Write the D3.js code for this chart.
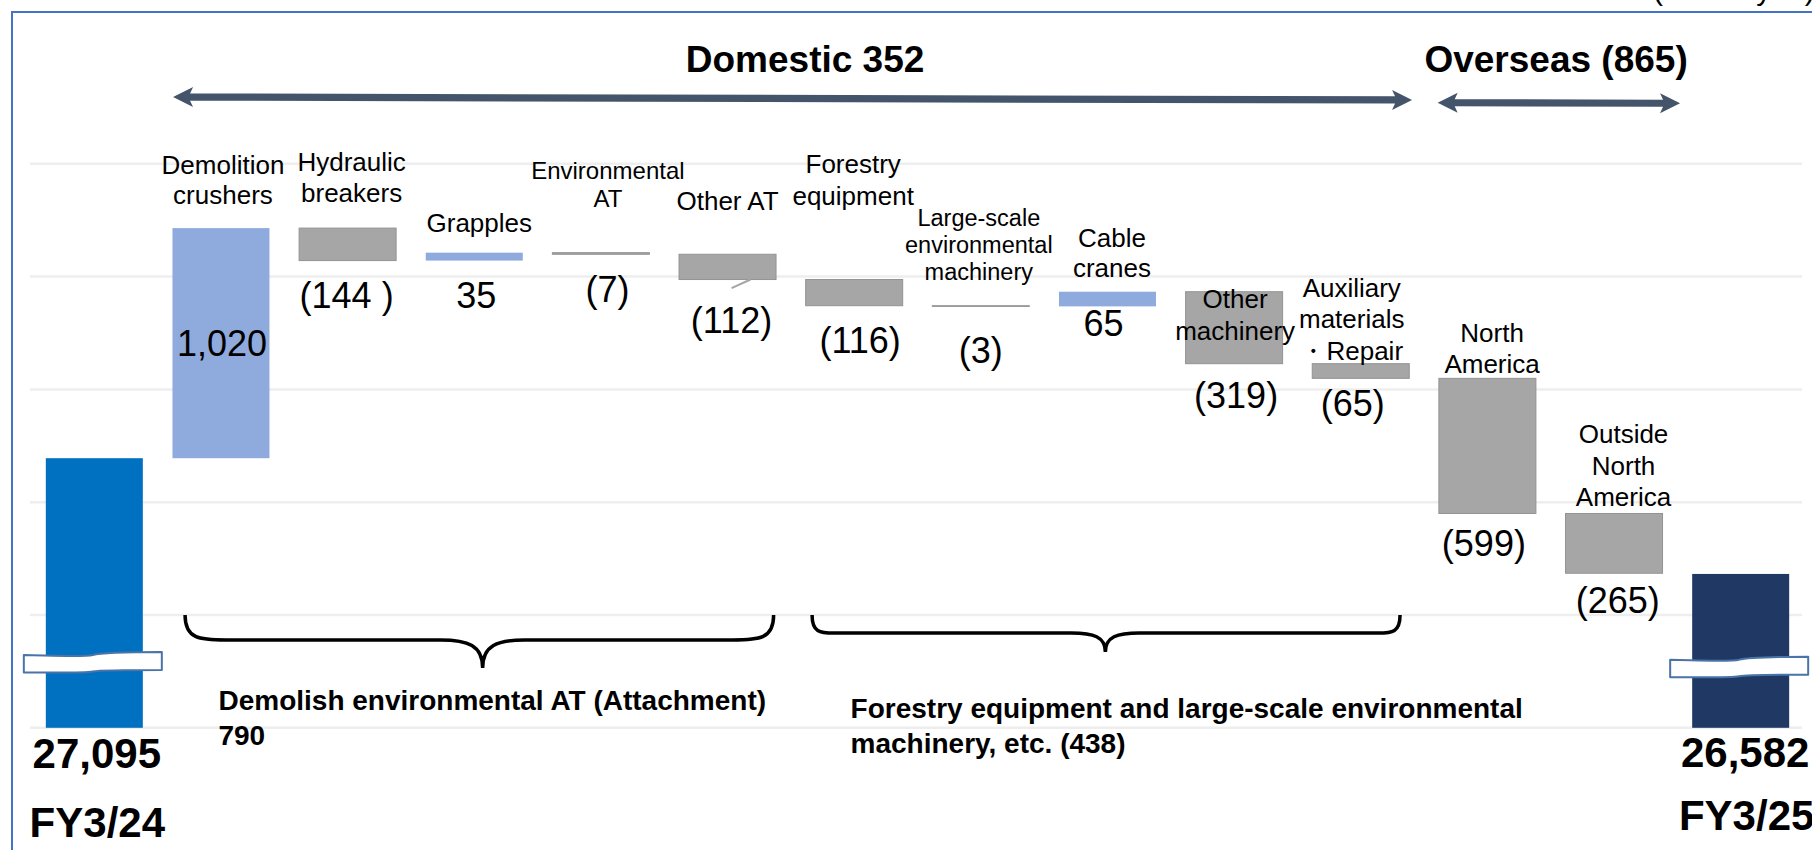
<!DOCTYPE html>
<html><head><meta charset="utf-8">
<script src="https://cdn.jsdelivr.net/npm/d3@7/dist/d3.min.js"></script>
<style>
html,body{margin:0;padding:0;background:#fff;overflow:hidden}
svg{display:block}
text{font-family:"Liberation Sans",Arial,Helvetica,sans-serif;fill:#000}
</style></head><body>
<svg id="chart" width="1812" height="850"></svg>
<script>
// ---------------- data ----------------
const categoryLines = [
  ["FY3/24"],
  ["Demolition", "crushers"],
  ["Hydraulic", "breakers"],
  ["Grapples"],
  ["Environmental", "AT"],
  ["Other AT"],
  ["Forestry", "equipment"],
  ["Large-scale", "environmental", "machinery"],
  ["Cable", "cranes"],
  ["Other", "machinery"],
  ["Auxiliary", "materials", "・Repair"],
  ["North", "America"],
  ["Outside", "North", "America"],
  ["FY3/25"]
];
const categories = categoryLines.map(l => l.join(" "));
const values = [27095, 1020, -144, 35, -7, -112, -116, -3, 65, -319, -65, -599, -265, 26582];
const valueLabels = ["27,095", "1,020", "(144 )", "35", "(7)", "(112)", "(116)", "(3)", "65", "(319)", "(65)", "(599)", "(265)", "26,582"];
const isTotal = [true, false, false, false, false, false, false, false, false, false, false, false, false, true];
const gridTicks = [25900, 26400, 26900, 27400, 27900, 28400];
const axisBase = 25900;
const breakValues = [26192, 26171];
const groupTitles = ["Domestic 352", "Overseas (865)"];
const groupRanges = [[1, 10], [11, 12]];
const bracketLabels = [
  ["Demolish environmental AT (Attachment)", "790"],
  ["Forestry equipment and large-scale environmental", "machinery, etc. (438)"]
];
const bracketRanges = [[1, 5], [6, 10]];
const unitLabel = "(Million yen)";

// ---------------- layout / style ----------------
const W = 1812, H = 850;
const FONT_CAT = 26, FONT_VAL = 36, FONT_BIG = 42, FONT_TITLE = 37, FONT_BRACKET = 28;
const COL_START = "#0070C0", COL_END = "#203864", COL_POS = "#8FAADC", COL_NEG = "#A6A6A6", COL_NEG_STROKE = "#939393";
const COL_ARROW = "#44546A", COL_BREAK = "#4A73A8", COL_FRAME = "#4472C4";

// category label placement: dx from band center, dy of last baseline from bar top
const catLayout = [
  null,
  {dx: 2, dy: -24, fs: 26, lh: 30},
  {dx: 4, dy: -25.6, fs: 26, lh: 31},
  {dx: 5, dy: -21, fs: 26, lh: 30},
  {dx: 7, dy: -45.6, fs: 24, lh: 28.3},
  {dx: 0, dy: -44, fs: 26, lh: 30},
  {dx: -1, dy: -75, fs: 26, lh: 31.7},
  {dx: -2, dy: -26, fs: 23.5, lh: 27},
  {dx: 4.5, dy: -14.6, fs: 26, lh: 30.6},
  {dx: 1, dy: 48, fs: 26, lh: 31.7},
  {dx: -9, dy: -4, fs: 26, lh: 31.2},
  {dx: 4.7, dy: -5.3, fs: 26, lh: 30.6},
  {dx: 9.5, dy: -7, fs: 26, lh: 31.7},
  null
];
// value label placement: dx from band center, dy of baseline from bar bottom (null = inside bar)
const valLayout = [
  {dx: 2.5, dy: 40}, {dx: 1, dy: null}, {dx: -1, dy: 47}, {dx: 2, dy: 47}, {dx: 6.7, dy: 48},
  {dx: 4, dy: 53}, {dx: 6, dy: 47}, {dx: 0, dy: 57}, {dx: -4, dy: 30}, {dx: 2, dy: 44},
  {dx: -8, dy: 38}, {dx: -3.5, dy: 43}, {dx: 3.7, dy: 40}, {dx: 4.5, dy: 39}
];
const totalCatLayout = {0: {dx: 3, dy: 108.7}, 13: {dx: 6, dy: 102}};

const svg = d3.select("#chart");

const x = d3.scaleBand().domain(categories).range([31, 1804]).paddingInner(0.234).paddingOuter(0.117);
const y = d3.scaleLinear().domain([axisBase, 28400]).range([727.8, 163.8]);
const bw = x.bandwidth();

// waterfall rows
let running = values[0];
const rows = values.map((v, i) => {
  let lo, hi;
  if (isTotal[i]) { lo = axisBase; hi = v; }
  else { const s = running, e = running + v; lo = Math.min(s, e); hi = Math.max(s, e); running = e; }
  return {i, cat: categories[i], v, lo, hi, total: isTotal[i]};
});

// frame
svg.append("rect").attr("x", 12).attr("y", 12).attr("width", W + 100).attr("height", H + 100)
  .attr("fill", "none").attr("stroke", COL_FRAME).attr("stroke-width", 2);

// unit label (mostly outside top edge, as in reference)
svg.append("text").attr("x", 1653).attr("y", 0).attr("font-size", 30).text(unitLabel);

// gridlines
svg.append("g").selectAll("line").data(gridTicks).join("line")
  .attr("x1", 30).attr("x2", 1802)
  .attr("y1", d => y(d)).attr("y2", d => y(d))
  .attr("stroke", "#EEEEEE").attr("stroke-width", 2.5);

// bars
svg.append("g").selectAll("rect").data(rows).join("rect")
  .attr("x", d => x(d.cat))
  .attr("y", d => y(d.hi))
  .attr("width", bw)
  .attr("height", d => Math.max(0.6, y(d.lo) - y(d.hi)))
  .attr("fill", d => d.total ? (d.i === 0 ? COL_START : COL_END) : (d.v >= 0 ? COL_POS : COL_NEG))
  .attr("stroke", d => (!d.total && d.v < 0) ? COL_NEG_STROKE : "none")
  .attr("stroke-width", 1);

// axis break ribbons
function ribbonPath(x0, x1, cy) {
  const w = x1 - x0;
  const p = (fx, dy) => `${x0 + fx * w},${cy + dy}`;
  return `M${p(0, -7)} C${p(0.3, -6)} ${p(0.44, -5)} ${p(0.5, -7)} C${p(0.56, -9.5)} ${p(0.7, -10)} ${p(1, -10)}`
    + ` L${p(1, 8)} C${p(0.7, 8)} ${p(0.56, 8)} ${p(0.5, 9.5)} C${p(0.44, 11)} ${p(0.3, 10.5)} ${p(0, 10.5)} Z`;
}
[0, 13].forEach((ci, k) => {
  const x0 = x(categories[ci]);
  svg.append("path").attr("d", ribbonPath(x0 - 22, x0 + bw + 19, y(breakValues[k])))
    .attr("fill", "#fff").attr("stroke", COL_BREAK).attr("stroke-width", 2).attr("stroke-linejoin", "round");
});

// category labels
rows.forEach(d => {
  const cx = x(d.cat) + bw / 2;
  const lines = categoryLines[d.i];
  if (d.total) {
    const L = totalCatLayout[d.i];
    svg.append("text").attr("x", cx + L.dx).attr("y", y(d.lo) + L.dy)
      .attr("text-anchor", "middle").attr("font-size", FONT_BIG).attr("font-weight", "bold").text(lines[0]);
    return;
  }
  const L = catLayout[d.i];
  const last = y(d.hi) + L.dy;
  const t = svg.append("text").attr("text-anchor", "middle").attr("font-size", L.fs);
  lines.forEach((ln, j) => {
    t.append("tspan").attr("x", cx + L.dx).attr("y", last - (lines.length - 1 - j) * L.lh).text(ln);
  });
});

// value labels
rows.forEach(d => {
  const cx = x(d.cat) + bw / 2;
  const L = valLayout[d.i];
  const by = L.dy === null ? (y(d.hi) + y(d.lo)) / 2 + 13 : y(d.lo) + L.dy;
  svg.append("text").attr("x", cx + L.dx).attr("y", by).attr("text-anchor", "middle")
    .attr("font-size", d.total ? FONT_BIG : FONT_VAL)
    .attr("font-weight", d.total ? "bold" : "normal")
    .text(valueLabels[d.i]);
});

// leader line for "Other AT"
{
  const d = rows[5];
  const cx = x(d.cat) + bw / 2, yb = y(d.lo);
  svg.append("line").attr("x1", cx + 4).attr("y1", yb + 8.6).attr("x2", cx + 23).attr("y2", yb)
    .attr("stroke", "#A6A6A6").attr("stroke-width", 2);
}

// group arrows + titles
function arrowPoly(x0, y0, x1, y1, t = 3.6, hw = 10, hl = 17) {
  const dx = x1 - x0, dy = y1 - y0, len = Math.hypot(dx, dy);
  const ux = dx / len, uy = dy / len, nx = -uy, ny = ux;
  const P = (bx, by, a, b) => [bx + ux * a + nx * b, by + uy * a + ny * b];
  const pts = [
    [x0, y0], P(x0, y0, hl + 3, hw), P(x0, y0, hl, t), P(x1, y1, -hl, t), P(x1, y1, -hl - 3, hw),
    [x1, y1], P(x1, y1, -hl - 3, -hw), P(x1, y1, -hl, -t), P(x0, y0, hl, -t), P(x0, y0, hl + 3, -hw)
  ];
  return "M" + pts.map(p => p.join(",")).join("L") + "Z";
}
const arrowSpecs = [
  {x0: x(categories[groupRanges[0][0]]) + 0.6, x1: x(categories[groupRanges[0][1]]) + bw + 2.8, y0: 97, y1: 100, tdx: 12.5},
  {x0: x(categories[groupRanges[1][0]]) - 1.2, x1: x(categories[groupRanges[1][1]]) + bw + 17.5, y0: 102.7, y1: 103.3, tdx: -2.8}
];
arrowSpecs.forEach((a, k) => {
  svg.append("path").attr("d", arrowPoly(a.x0, a.y0, a.x1, a.y1)).attr("fill", COL_ARROW);
  svg.append("text").attr("x", (a.x0 + a.x1) / 2 + a.tdx).attr("y", 71.7).attr("text-anchor", "middle")
    .attr("font-size", FONT_TITLE).attr("font-weight", "bold").text(groupTitles[k]);
});

// braces + bracket labels
function bracePath(x0, x1, tipX, top, lineY, tipY, rx, tr) {
  return `M${x0},${top} C${x0},${lineY - (lineY - top) * 0.05} ${x0 + rx * 0.35},${lineY} ${x0 + rx},${lineY}`
    + ` L${tipX - tr},${lineY} C${tipX - tr * 0.35},${lineY} ${tipX},${lineY + (tipY - lineY) * 0.2} ${tipX},${tipY}`
    + ` C${tipX},${lineY + (tipY - lineY) * 0.2} ${tipX + tr * 0.35},${lineY} ${tipX + tr},${lineY}`
    + ` L${x1 - rx},${lineY} C${x1 - rx * 0.35},${lineY} ${x1},${lineY - (lineY - top) * 0.05} ${x1},${top}`;
}
const braceSpecs = [
  {l: 12.6, r: -2.4, tip: 3.3, depth: 25, tipDepth: 53, rx: 41, tr: 42, lx: 33.4, ly: [95, 130]},
  {l: 6.4, r: -9.2, tip: -0.7, depth: 18, tipDepth: 37, rx: 22, tr: 34, lx: 38.5, ly: [103, 138]}
];
const braceTop = y(26400);
braceSpecs.forEach((b, k) => {
  const x0 = x(categories[bracketRanges[k][0]]) + b.l;
  const x1 = x(categories[bracketRanges[k][1]]) + bw + b.r;
  const tipX = (x0 + x1) / 2 + b.tip;
  svg.append("path").attr("d", bracePath(x0, x1, tipX, braceTop, braceTop + b.depth, braceTop + b.tipDepth, b.rx, b.tr))
    .attr("fill", "none").attr("stroke", "#000").attr("stroke-width", 3.5);
  bracketLabels[k].forEach((ln, j) => {
    svg.append("text").attr("x", x0 + b.lx).attr("y", braceTop + b.ly[j])
      .attr("font-size", FONT_BRACKET).attr("font-weight", "bold").text(ln);
  });
});
</script>
</body></html>
